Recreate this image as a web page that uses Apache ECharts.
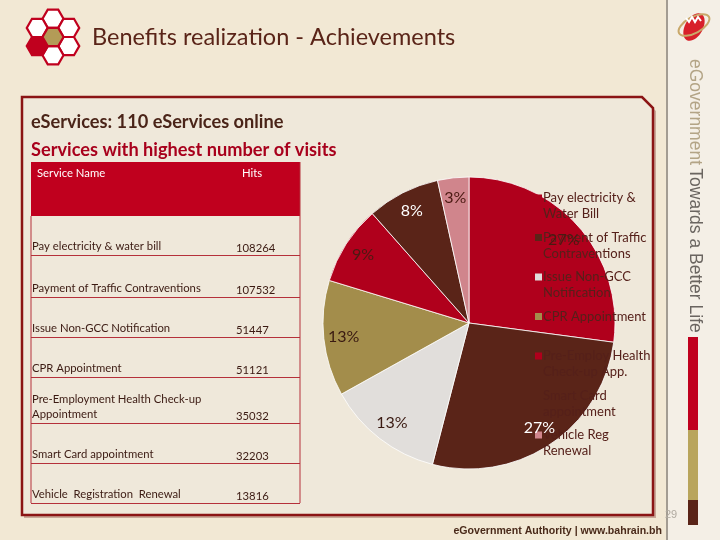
<!DOCTYPE html>
<html>
<head>
<meta charset="utf-8">
<script src="https://cdn.jsdelivr.net/npm/echarts@6/dist/echarts.min.js"></script>
<style>html,body{margin:0;padding:0;background:#F2E8D4;}#c{width:720px;height:540px;}</style>
</head>
<body>
<div id="c"></div>
<script>
// ---- data ----
const serviceNames = [
  'Pay electricity & water bill',
  'Payment of Traffic Contraventions',
  'Issue Non-GCC Notification',
  'CPR Appointment',
  'Pre-Employment Health Check-up\nAppointment',
  'Smart Card appointment',
  'Vehicle  Registration  Renewal'
];
const hits = [108264, 107532, 51447, 51121, 35032, 32203, 13816];
const legendNames = [
  'Pay electricity & Water Bill',
  'Payment of Traffic Contraventions',
  'Issue Non-GCC Notification',
  'CPR Appointment',
  'Pre-Employ Health Check-up App.',
  'Smart Card appointment',
  'Vehicle Reg Renewal'
];
const legendLines = [
  ['Pay electricity &', 'Water Bill'],
  ['Payment of Traffic', 'Contraventions'],
  ['Issue Non-GCC', 'Notification'],
  ['CPR Appointment', ' '],
  ['Pre-Employ Health', 'Check-up App.'],
  ['Smart Card', 'appointment'],
  ['Vehicle Reg', 'Renewal']
];
const sliceColors = ['#B0001C', '#5A2418', '#E1DEDB', '#A38D4B', '#B0001C', '#5A2418', '#D0858C'];
const labelColors = ['#4A1A12', '#FFFFFF', '#3A1A12', '#3A1A12', '#4A1A12', '#FFFFFF', '#4A1A12'];

// ---- layout (not data) ----
const rowBottoms = [255, 297, 337, 377, 423, 463, 503];
const TX0 = 31, TX1 = 300, HITX = 236;
const tableFont = '11.3px Lato, sans-serif';
const textDark = '#3B1A12';

const chart = echarts.init(document.getElementById('c'), null, {renderer: 'canvas'});

const graphics = [];
// panel shadow + panel
graphics.push({type: 'polygon', shape: {points: [[24,100],[644,100],[656,111],[656,518],[24,518]]}, style: {fill: 'rgba(150,90,80,0.45)'}, z: 0});
graphics.push({type: 'polygon', shape: {points: [[22,97],[642,97],[653,108],[653,515],[22,515]]}, style: {fill: '#EFE8DA', stroke: '#8B1414', lineWidth: 2.5}, z: 1});
// sidebar
graphics.push({type: 'rect', shape: {x: 668, y: 0, width: 52, height: 540}, style: {fill: '#F4EFE6'}, z: 0});
graphics.push({type: 'line', shape: {x1: 667, y1: 0, x2: 667, y2: 540}, style: {stroke: '#A39C92', lineWidth: 2}, z: 1});
graphics.push({type: 'rect', shape: {x: 688, y: 337, width: 10, height: 93}, style: {fill: '#C0001E'}, z: 1});
graphics.push({type: 'rect', shape: {x: 688, y: 430, width: 10, height: 70}, style: {fill: '#B9A55C'}, z: 1});
graphics.push({type: 'rect', shape: {x: 688, y: 500, width: 10, height: 25}, style: {fill: '#5A2418'}, z: 1});
graphics.push({type: 'text', x: 695, y: 59, rotation: -Math.PI / 2, z: 2,
  style: {text: '{a|eGovernment} {b|Towards a Better Life}', textAlign: 'left', align: 'left', textVerticalAlign: 'middle', verticalAlign: 'middle',
    rich: {a: {font: '17.5px "Liberation Sans", sans-serif', fill: '#B3A486', color: '#B3A486'}, b: {font: '17.5px "Liberation Sans", sans-serif', fill: '#6A6560', color: '#6A6560'}}}});
// bahrain emblem (approx)
graphics.push({type: 'ellipse', shape: {cx: 694, cy: 27, rx: 9, ry: 15}, rotation: -0.5, originX: 694, originY: 27, style: {fill: '#D8202A'}, z: 2});
graphics.push({type: 'ellipse', shape: {cx: 694, cy: 25, rx: 17, ry: 8}, rotation: 0.5, originX: 694, originY: 25, style: {fill: 'none', stroke: '#C9A86A', lineWidth: 2}, z: 3});
graphics.push({type: 'polyline', shape: {points: [[686,18],[689,22],[692,17],[695,22],[698,17],[701,21]]}, style: {stroke: '#FFFFFF', lineWidth: 2, fill: 'none'}, z: 3});
// page number + footer
graphics.push({type: 'text', x: 665, y: 515, z: 2, style: {text: '29', font: '11px "Liberation Sans", sans-serif', fill: '#B0AAA0', textVerticalAlign: 'middle', verticalAlign: 'middle'}});
graphics.push({type: 'text', x: 662, y: 531, z: 2, style: {text: 'eGovernment Authority | www.bahrain.bh', font: 'bold 10.6px "Liberation Sans", sans-serif', fill: '#4A2A1A', textAlign: 'right', align: 'right', textVerticalAlign: 'middle', verticalAlign: 'middle'}});
// hexagon logo
function hex(cx, cy, R) {
  const pts = [];
  for (let k = 0; k < 6; k++) { const a = k * Math.PI / 3; pts.push([cx + R * Math.cos(a), cy + R * Math.sin(a)]); }
  return pts;
}
const hcx = 53, hcy = 37, HR = 10.5, HD = Math.sqrt(3) * HR;
const hexDirs = [-90, -30, 30, 90, 150, 210];
hexDirs.forEach(function (deg) {
  const a = deg * Math.PI / 180;
  graphics.push({type: 'polygon', shape: {points: hex(hcx + HD * Math.cos(a), hcy + HD * Math.sin(a), HR)},
    style: {fill: deg === 150 ? '#C0001E' : '#FFFFFF', stroke: '#C0001E', lineWidth: 2.2}, z: 2});
});
graphics.push({type: 'polygon', shape: {points: hex(hcx, hcy, HR)}, style: {fill: '#B39B57', stroke: '#C0001E', lineWidth: 2.2}, z: 2});
// titles
graphics.push({type: 'text', x: 92, y: 37, z: 2, style: {text: 'Benefits realization - Achievements', font: '23.5px Lato, sans-serif', fill: '#5A2418', textVerticalAlign: 'middle', verticalAlign: 'middle'}});
graphics.push({type: 'text', x: 31, y: 122, z: 2, style: {text: 'eServices: 110 eServices online', font: 'bold 18.2px Lato, sans-serif', fill: '#4A2418', textVerticalAlign: 'middle', verticalAlign: 'middle'}});
graphics.push({type: 'text', x: 31, y: 150, z: 2, style: {text: 'Services with highest number of visits', font: 'bold 18.2px Lato, sans-serif', fill: '#A8001C', textVerticalAlign: 'middle', verticalAlign: 'middle'}});
// table
graphics.push({type: 'rect', shape: {x: TX0, y: 162, width: TX1 - TX0, height: 54}, style: {fill: '#C0001E'}, z: 2});
graphics.push({type: 'text', x: 37, y: 173, z: 3, style: {text: 'Service Name', font: tableFont, fill: '#FFFFFF', textVerticalAlign: 'middle', verticalAlign: 'middle'}});
graphics.push({type: 'text', x: 242, y: 173, z: 3, style: {text: 'Hits', font: tableFont, fill: '#FFFFFF', textVerticalAlign: 'middle', verticalAlign: 'middle'}});
graphics.push({type: 'line', shape: {x1: TX0, y1: 216, x2: TX0, y2: 503}, style: {stroke: '#B5303A', lineWidth: 1}, z: 2});
graphics.push({type: 'line', shape: {x1: TX1, y1: 162, x2: TX1, y2: 503}, style: {stroke: '#B5303A', lineWidth: 1}, z: 2});
serviceNames.forEach(function (nm, i) {
  const yb = rowBottoms[i];
  graphics.push({type: 'line', shape: {x1: TX0, y1: yb + 0.5, x2: TX1, y2: yb + 0.5}, style: {stroke: '#B5303A', lineWidth: 1}, z: 2});
  graphics.push({type: 'text', x: TX0 + 1, y: yb - 1, z: 3, style: {text: nm, font: tableFont, lineHeight: 15, fill: textDark, textVerticalAlign: 'bottom', verticalAlign: 'bottom'}});
  graphics.push({type: 'text', x: HITX, y: yb - 1, z: 3, style: {text: String(hits[i]), font: tableFont, fill: textDark, textVerticalAlign: 'bottom', verticalAlign: 'bottom'}});
});

const pieData = legendNames.map(function (n, i) {
  return {name: n, value: hits[i], itemStyle: {color: sliceColors[i]}};
});
const labelData = legendNames.map(function (n, i) {
  return {name: n, value: hits[i], itemStyle: {color: 'rgba(0,0,0,0)', borderWidth: 0}, label: {color: labelColors[i]}};
});

const option = {
  backgroundColor: '#F2E8D4',
  animation: false,
  graphic: {elements: graphics},
  legend: {
    orient: 'vertical',
    left: 530,
    top: 185,
    itemWidth: 7,
    itemHeight: 32,
    itemGap: 7.5,
    icon: 'path://M0,0M0,32M0,4.5L7,4.5L7,11.5L0,11.5Z',
    itemStyle: {borderWidth: 0},
    data: legendNames,
    formatter: function (name) { return legendLines[legendNames.indexOf(name)].join('\n'); },
    textStyle: {fontFamily: 'Lato, sans-serif', fontSize: 13, lineHeight: 16, color: '#55201A', padding: [0, 0, 0, -4]},
    z: 5
  },
  series: [
    {
      type: 'pie',
      center: [469, 323],
      radius: 146,
      startAngle: 90,
      clockwise: true,
      label: {show: false},
      labelLine: {show: false},
      itemStyle: {borderColor: '#FFFFFF', borderWidth: 0.8},
      emphasis: {disabled: true},
      data: pieData,
      z: 2
    },
    {
      type: 'pie',
      center: [469, 323],
      radius: [100, 146],
      startAngle: 90,
      clockwise: true,
      silent: true,
      legendHoverLink: false,
      label: {show: true, position: 'inside', fontFamily: 'Lato, sans-serif', fontSize: 16,
        formatter: function (p) { return Math.round(p.percent) + '%'; }},
      labelLine: {show: false},
      labelLayout: {hideOverlap: false},
      emphasis: {disabled: true},
      data: labelData,
      z: 6
    }
  ]
};
chart.setOption(option);
</script>
</body>
</html>
